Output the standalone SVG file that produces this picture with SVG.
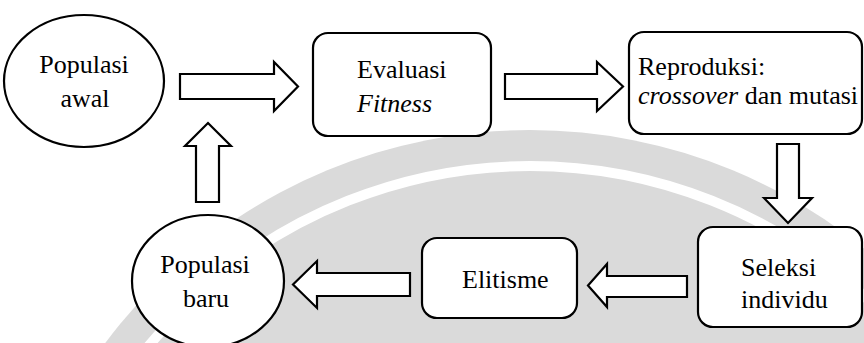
<svg xmlns="http://www.w3.org/2000/svg" width="864" height="343" viewBox="0 0 864 343">
<defs>
<style>
.bg{fill:#dadada;}
.ring{fill:none;stroke:#ffffff;stroke-width:10;}
.node{fill:#ffffff;stroke:#000000;stroke-width:2.2;}
.arrow{fill:#ffffff;stroke:#000000;stroke-width:2.2;stroke-linejoin:miter;}
.t{font-size:26px;fill:#000000;}
.i{font-style:italic;}
.c{text-anchor:middle;}
</style>
</defs>
<rect width="864" height="343" fill="#ffffff"/>
<g id="background">
<circle class="bg" cx="530" cy="660" r="530"/>
<circle class="ring" cx="530" cy="660" r="494"/>
</g>
<g id="connectors">
<path class="arrow" d="M180,74 H274 V62 L298,86.5 L274,111 V99 H180 Z"/>
<path class="arrow" d="M505,74 H597 V62 L623,86.5 L597,111 V99 H505 Z"/>
<path class="arrow" d="M777,144 V198 H764 L788,223 L812,198 H799 V144 Z"/>
<path class="arrow" d="M687,276 H607 V264 L588,285.5 L607,307 V297 H687 Z"/>
<path class="arrow" d="M410,273 H317 V261 L293,284.5 L317,308 V296 H410 Z"/>
<path class="arrow" d="M196,202 V146 H185 L208,123 L231,146 H219 V202 Z"/>
</g>
<g font-family="'Liberation Serif', Tinos, 'Times New Roman', 'DejaVu Serif', serif">
<g id="populasi-awal">
<ellipse class="node" cx="84" cy="81" rx="80" ry="66"/>
<text class="t c" x="84" y="73">Populasi</text>
<text class="t c" x="85" y="107">awal</text>
</g>
<g id="evaluasi-fitness">
<rect class="node" x="313" y="33" width="178" height="103" rx="15"/>
<text class="t" x="357" y="78">Evaluasi</text>
<text class="t i" x="357" y="112">Fitness</text>
</g>
<g id="reproduksi">
<rect class="node" x="629" y="32" width="233" height="102" rx="15"/>
<text class="t" x="638" y="75">Reproduksi:</text>
<text class="t" x="638" y="104"><tspan class="i">crossover</tspan> dan mutasi</text>
</g>
<g id="seleksi-individu">
<rect class="node" x="698" y="227" width="164" height="100" rx="15"/>
<text class="t" x="741" y="276">Seleksi</text>
<text class="t" x="741" y="308">individu</text>
</g>
<g id="elitisme">
<rect class="node" x="422" y="238" width="155" height="80" rx="15"/>
<text class="t" x="462" y="288">Elitisme</text>
</g>
<g id="populasi-baru">
<ellipse class="node" cx="208" cy="281" rx="76" ry="66"/>
<text class="t c" x="205" y="273">Populasi</text>
<text class="t c" x="206" y="307">baru</text>
</g>
</g>
</svg>
